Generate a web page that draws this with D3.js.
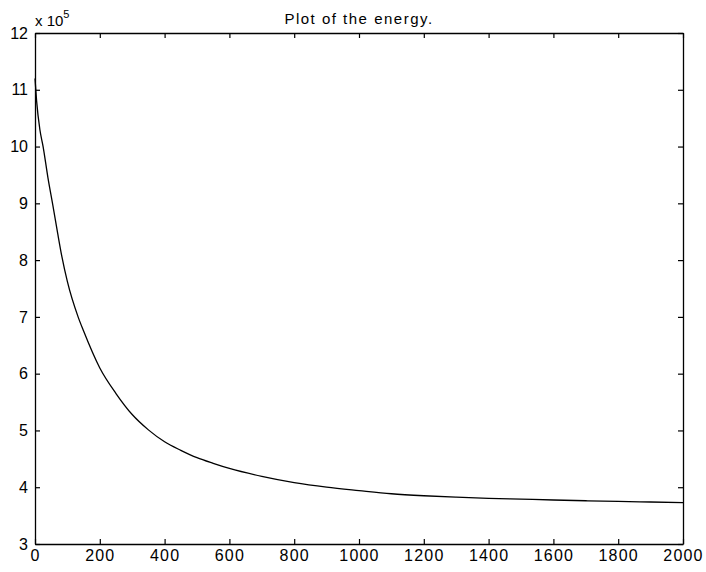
<!DOCTYPE html>
<html><head><meta charset="utf-8">
<script src="https://cdn.jsdelivr.net/npm/d3@7"></script>
<style>body{margin:0;background:#fff}svg{display:block}</style>
</head><body>
<script>
// Data (values in units of 1e5)
const iterations = [0,5,15,25,40,55,70,83,100,133,150,200,250,300,350,400,450,500,550,600,700,800,900,1000,1100,1200,1300,1400,1500,1600,1700,1800,1900,2000];
const energy = [11.2,10.8,10.3,10.0,9.45,8.97,8.47,8.06,7.62,7.0,6.75,6.1,5.65,5.28,5.01,4.8,4.65,4.52,4.42,4.33,4.19,4.08,4.0,3.94,3.885,3.85,3.825,3.805,3.79,3.775,3.762,3.75,3.74,3.73];
const xTicks = [0,200,400,600,800,1000,1200,1400,1600,1800,2000];
const yTicks = [3,4,5,6,7,8,9,10,11,12];
const title = "Plot of the energy.";

const W=706,H=572;
const m={left:35,top:33,right:706-683,bottom:572-544};
const svg=d3.select("body").append("svg").attr("width",W).attr("height",H);
const x=d3.scaleLinear().domain([0,2000]).range([m.left,W-m.right]);
const y=d3.scaleLinear().domain([3,12]).range([H-m.bottom,m.top]);
const font="Liberation Sans, Arial, sans-serif";

const tl=5;
const gB=svg.append("g").attr("transform",`translate(0,${H-m.bottom})`)
  .call(d3.axisBottom(x).tickValues(xTicks).tickFormat(d3.format("d")).tickSizeInner(-tl).tickSizeOuter(0).tickPadding(6));
const gT=svg.append("g").attr("transform",`translate(0,${m.top})`)
  .call(d3.axisTop(x).tickValues(xTicks).tickFormat("").tickSizeInner(-tl).tickSizeOuter(0));
const gL=svg.append("g").attr("transform",`translate(${m.left},0)`)
  .call(d3.axisLeft(y).tickValues(yTicks).tickFormat(d3.format("d")).tickSizeInner(-tl).tickSizeOuter(0).tickPadding(7));
const gR=svg.append("g").attr("transform",`translate(${W-m.right},0)`)
  .call(d3.axisRight(y).tickValues(yTicks).tickFormat("").tickSizeInner(-tl).tickSizeOuter(0));
[gB,gT,gL,gR].forEach(g=>{
  g.selectAll("path.domain").attr("stroke","#000").attr("stroke-width",1.3);
  g.selectAll(".tick line").attr("stroke","#000").attr("stroke-width",1.2);
  g.selectAll("text").attr("fill","#000").style("font-family",font).style("font-size","16px");
});
gB.selectAll("text").style("letter-spacing","1.2px");

svg.append("path").datum(iterations.map((d,i)=>[d,energy[i]]))
  .attr("fill","none").attr("stroke","#000").attr("stroke-width",1.3)
  .attr("d",d3.line().x(d=>x(d[0])).y(d=>y(d[1])).curve(d3.curveMonotoneX));

svg.append("text").attr("x",359).attr("y",24).attr("text-anchor","middle")
  .style("font-family",font).style("font-size","15px").style("letter-spacing","1.5px").text(title);

const ex=svg.append("text").attr("x",35).attr("y",26).style("font-family",font).style("font-size","15px");
ex.append("tspan").text("x 10");
ex.append("tspan").attr("dy",-8).style("font-size","11px").text("5");
</script>
</body></html>
